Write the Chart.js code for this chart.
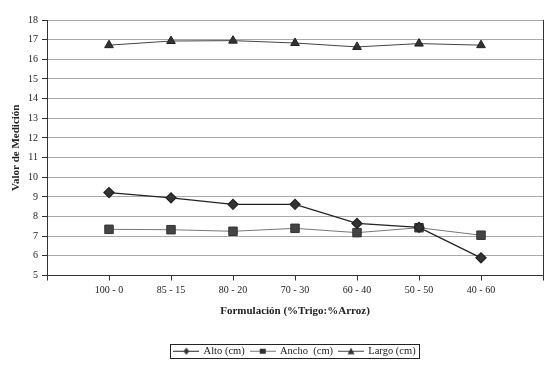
<!DOCTYPE html>
<html><head><meta charset="utf-8">
<script src="https://cdn.jsdelivr.net/npm/chart.js@4/dist/chart.umd.min.js"></script>
<style>html,body{margin:0;padding:0;background:#fff}#wrap{width:557px;height:373px}</style>
</head><body><div id="wrap"><canvas id="c" width="557" height="373"></canvas></div>
<script>
const categories = ['100 - 0', '85 - 15', '80 - 20', '70 - 30', '60 - 40', '50 - 50', '40 - 60'];
const alto = [9.22, 8.95, 8.62, 8.62, 7.65, 7.45, 5.9];
const ancho = [7.35, 7.33, 7.25, 7.4, 7.18, 7.43, 7.05];
const largo = [16.72, 16.93, 16.95, 16.83, 16.63, 16.8, 16.72];
const seriesNames = ['Alto (cm)', 'Ancho  (cm)', 'Largo (cm)'];
const yTicks = [5, 6, 7, 8, 9, 10, 11, 12, 13, 14, 15, 16, 17, 18];

function toPts(arr){ return arr.map((v,i)=>({x:i+1,y:v})); }

function legendIcon(shape, lineColor){
  const c = document.createElement('canvas'); c.width = 26; c.height = 10;
  const g = c.getContext('2d');
  g.strokeStyle = lineColor; g.lineWidth = 1;
  g.beginPath(); g.moveTo(0,5.5); g.lineTo(26,5.5); g.stroke();
  g.fillStyle = '#333';
  g.beginPath();
  if (shape==='rectRot'){ g.moveTo(13,2); g.lineTo(16,5.5); g.lineTo(13,9); g.lineTo(10,5.5); }
  else if (shape==='rect'){ g.rect(10,3,6,5); }
  else { g.moveTo(13,2); g.lineTo(16.5,8.5); g.lineTo(9.5,8.5); }
  g.closePath(); g.fill();
  return c;
}

const serif = "'Liberation Serif', 'DejaVu Serif', serif";

const legendBox = {
  id:'legendBox',
  beforeDraw(chart){
    const lg = chart.legend, a = chart.chartArea; if(!lg) return;
    const tops = lg.legendHitBoxes.map(h=>h.top);
    lg.left = a.left; lg.right = a.right;
    lg.adjustHitBoxes();
    lg.legendHitBoxes.forEach((h,i)=>{ h.top = tops[i]; });
  },
  afterDraw(chart){
    const lg = chart.legend; if(!lg || !lg.legendHitBoxes.length) return;
    const hb = lg.legendHitBoxes;
    let l=Infinity,r=-Infinity,t=Infinity,b=-Infinity;
    hb.forEach(h=>{l=Math.min(l,h.left);r=Math.max(r,h.left+h.width);t=Math.min(t,h.top);b=Math.max(b,h.top+h.height);});
    const ctx = chart.ctx; ctx.save(); ctx.strokeStyle='#222'; ctx.lineWidth=1;
    ctx.strokeRect(Math.round(l-4)+0.5, Math.round(t-2)+0.5, Math.round(r-l+8), Math.round(b-t+3));
    ctx.restore();
  }
};
const rightBorder = {
  id:'rightBorder',
  afterDatasetsDraw(chart){
    const a = chart.chartArea, ctx = chart.ctx; ctx.save();
    ctx.strokeStyle='#333'; ctx.lineWidth=1;
    ctx.beginPath(); ctx.moveTo(Math.round(a.right)+0.5, a.top); ctx.lineTo(Math.round(a.right)+0.5, a.bottom); ctx.stroke();
    ctx.restore();
  }
};

new Chart(document.getElementById('c'), {
  type:'line',
  data:{ datasets:[
    {label:seriesNames[0], data:toPts(alto), borderColor:'#222', borderWidth:1.3, pointStyle:'rectRot', pointRadius:5, pointBackgroundColor:'#333', pointBorderColor:'#222', tension:0},
    {label:seriesNames[1], data:toPts(ancho), borderColor:'#777', borderWidth:1, pointStyle:'rect', pointRadius:6, pointBackgroundColor:'#444', pointBorderColor:'#333', tension:0},
    {label:seriesNames[2], data:toPts(largo), borderColor:'#444', borderWidth:1, pointStyle:'triangle', pointRadius:5, pointBackgroundColor:'#333', pointBorderColor:'#222', tension:0}
  ]},
  options:{
    responsive:false, animation:false,
    layout:{padding:{left:0,right:14,top:20,bottom:7}},
    plugins:{
      legend:{position:'bottom', labels:{usePointStyle:true, pointStyleWidth:24, font:{family:serif,size:10.5}, color:'#222', padding:6,
        generateLabels(chart){
          const shapes=['rectRot','rect','triangle'], cols=['#222','#777','#444'];
          return chart.data.datasets.map((d,i)=>({text:d.label, pointStyle:legendIcon(shapes[i],cols[i]), datasetIndex:i, fontColor:'#222', lineWidth:0, strokeStyle:'transparent', fillStyle:'transparent'}));
        }}},
      tooltip:{enabled:false}
    },
    scales:{
      x:{type:'linear', min:0, max:8, 
        afterBuildTicks(s){ s.ticks = [0,1,2,3,4,5,6,7,8].map(v=>({value:v})); },
        ticks:{callback:(v)=> (v>=1 && v<=categories.length) ? categories[v-1] : '', font:{family:serif,size:10}, color:'#222', maxRotation:0, autoSkip:false, padding:4},
        grid:{drawOnChartArea:false, drawTicks:true, tickLength:5, color:'#333'},
        border:{color:'#333', width:1},
        title:{display:true, text:'Formulación (%Trigo:%Arroz)', font:{family:serif,size:11,weight:'bold'}, color:'#222', padding:{top:6,bottom:22}},
        afterFit(s){ s.height = 64; }
      },
      y:{min:5, max:18,
        afterBuildTicks(s){ s.ticks = yTicks.map(v=>({value:v})); },
        ticks:{font:{family:serif,size:10}, color:'#222', padding:4},
        grid:{color:'#aaa', tickLength:5, tickColor:'#333'},
        border:{color:'#333', width:1},
        title:{display:true, text:'Valor de Medición', font:{family:serif,size:11,weight:'bold'}, color:'#222', padding:{top:10,bottom:4}},
        afterFit(s){ s.width = 47; }
      }
    }
  },
  plugins:[legendBox, rightBorder]
});
</script></body></html>
